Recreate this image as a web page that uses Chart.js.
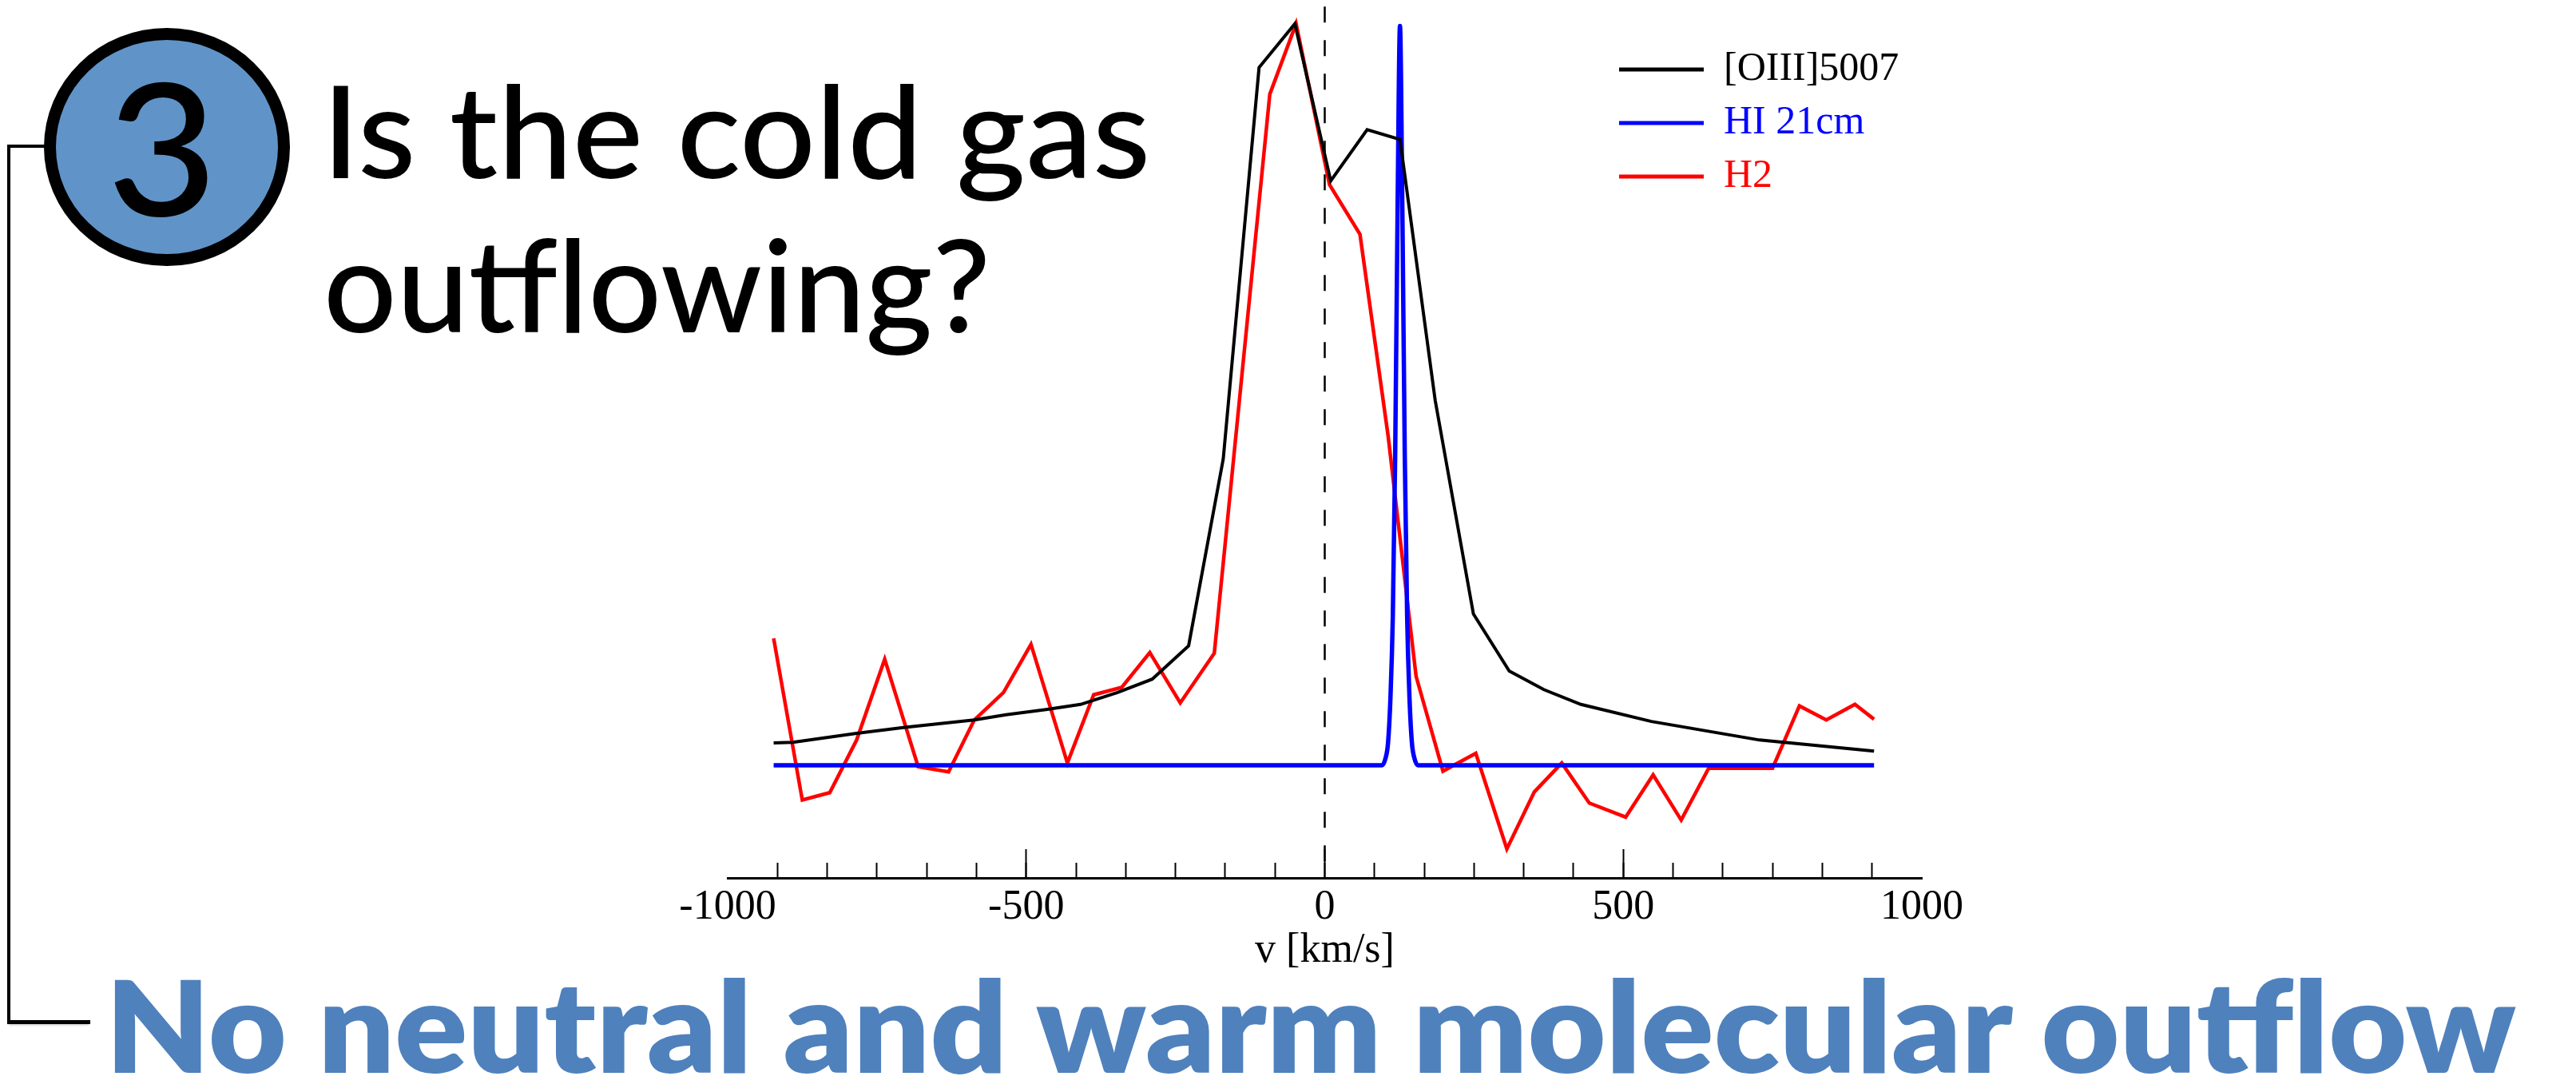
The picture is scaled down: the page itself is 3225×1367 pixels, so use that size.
<!DOCTYPE html>
<html>
<head>
<meta charset="utf-8">
<title>Is the cold gas outflowing?</title>
<script src="https://cdn.jsdelivr.net/npm/chart.js@4.4.1/dist/chart.umd.min.js"></script>
<style>
html, body { margin: 0; padding: 0; background: #fff; }
#page { position: relative; width: 3225px; height: 1367px; overflow: hidden; }
#chartBox { position: absolute; left: 0; top: 0; width: 3225px; height: 1367px; }
.txt { position: absolute; left: 0; top: 0; white-space: nowrap; line-height: 1; transform-origin: 0 0; }
#bracket { position: absolute; left: 9px; top: 182px; width: 104px; height: 1100px; box-sizing: border-box;
  border-left: 4px solid #000; border-bottom: 5px solid #000; box-shadow: 0 3px 3px -2px rgba(0,0,0,0.25); }
#stub { position: absolute; left: 9px; top: 181px; width: 50px; height: 0; border-top: 4px solid #000; }
#badge { position: absolute; left: 55px; top: 35px; width: 308px; height: 298px; box-sizing: border-box;
  border: 15px solid #000; border-radius: 50%; background: #6094c8; }
#num { font: 500 230px Lato, "Open Sans", sans-serif; color: #000; }
#q1, #q2 { font: 500 160px Lato, "Open Sans", sans-serif; color: #000; }
#answer { font: 800 159px Lato, "Open Sans", sans-serif; color: #4f81bd; }
</style>
</head>
<body>
<div id="page">
  <div id="chartBox"><canvas id="spec"></canvas></div>
  <div id="bracket"></div>
  <div id="stub"></div>
  <div id="badge"></div>
  <div class="txt" id="num">3</div>
  <div class="txt" id="q1">Is the cold gas</div>
  <div class="txt" id="q2">outflowing?</div>
  <div class="txt" id="answer">No neutral and warm molecular outflow</div>
</div>
<script>
// velocities (km/s) and normalised line profiles
const oiiiV = [-923, -891, -784, -703, -587, -534, -467, -409, -347, -289, -228, -170, -110, -50, 10, 71, 126, 185, 249, 309, 367, 429, 547, 728, 920];
const oiiiFlux = [0.030, 0.031, 0.043, 0.051, 0.061, 0.068, 0.075, 0.082, 0.098, 0.116, 0.161, 0.413, 0.941, 1.0, 0.788, 0.857, 0.844, 0.492, 0.204, 0.127, 0.102, 0.082, 0.059, 0.034, 0.019];

const hiV = [-923, 96, 102, 106, 110, 114, 118, 122, 126, 130, 134, 138, 142, 146, 150, 156, 920];
const hiFlux = [0, 0, 0.01, 0.03, 0.09, 0.2, 0.42, 0.75, 0.997, 0.75, 0.42, 0.2, 0.09, 0.03, 0.01, 0, 0];

const h2V = [-923, -875, -829, -784, -737, -681, -630, -587, -538, -492, -431, -387, -340, -293, -242, -185, -92, -48, 8, 59, 106, 153, 198, 253, 305, 351, 397, 443, 504, 550, 597, 643, 750, 795, 840, 888, 920];
const h2Flux = [0.171, -0.047, -0.037, 0.034, 0.143, -0.002, -0.009, 0.061, 0.098, 0.163, 0.003, 0.095, 0.105, 0.152, 0.084, 0.151, 0.905, 1.0, 0.783, 0.716, 0.445, 0.120, -0.008, 0.016, -0.113, -0.036, 0.003, -0.051, -0.070, -0.013, -0.074, -0.004, -0.004, 0.080, 0.061, 0.082, 0.062];

// systemic velocity marker
const zeroV = [0, 0];
const zeroY = [1.023, -0.152];

const majorTicks = [-1000, -500, 0, 500, 1000];
const yMin = -0.152, yMax = 1.032;

function pts(xs, ys) {
    return xs.map((v, i) => ({x: v, y: ys[i]}));
}

// put a text block so its ink spans inkLeft..inkRight with the baseline at y
function placeText(id, inkLeft, inkRight, baseline) {
    const el = document.getElementById(id);
    const cs = getComputedStyle(el);
    const c = document.createElement('canvas').getContext('2d');
    c.font = cs.fontWeight + ' ' + cs.fontSize + ' ' + cs.fontFamily;
    const m = c.measureText(el.textContent);
    const s = (inkRight - inkLeft) / (m.actualBoundingBoxLeft + m.actualBoundingBoxRight);
    const mark = document.createElement('span');
    mark.style.cssText = 'display:inline-block;width:0;height:0;vertical-align:baseline';
    el.appendChild(mark);
    const base = mark.getBoundingClientRect().top - el.getBoundingClientRect().top;
    el.style.top = (baseline - base) + 'px';
    el.style.left = (inkLeft + m.actualBoundingBoxLeft * s) + 'px';
    el.style.transform = 'scaleX(' + s + ')';
}

const legendSpot = {
    id: 'legendSpot',
    afterLayout(chart) {
        chart.legend.left = 2010;
        chart.legend.top = 45;
    }
};

const serif = 'Liberation Serif, "Times New Roman", serif';
const hideEnds = (c) => Math.abs(c.tick.value) > 999 ? 'rgba(0,0,0,0)' : '#000';

function drawChart() {
    new Chart(document.getElementById('spec'), {
        type: 'line',
        data: {
            datasets: [{
                label: '[OIII]5007',
                data: pts(oiiiV, oiiiFlux),
                borderColor: '#000000',
                borderWidth: 4
            }, {
                label: 'HI 21cm',
                data: pts(hiV, hiFlux),
                borderColor: '#0000ff',
                borderWidth: 5.5,
                cubicInterpolationMode: 'monotone'
            }, {
                label: 'H2',
                data: pts(h2V, h2Flux),
                borderColor: '#ff0000',
                borderWidth: 4.5
            }, {
                label: 'v0',
                data: pts(zeroV, zeroY),
                borderColor: '#000000',
                borderWidth: 2.5,
                borderDash: [20, 22]
            }]
        },
        options: {
            responsive: true,
            maintainAspectRatio: false,
            animation: false,
            layout: {padding: {left: 911, right: 819, top: 0, bottom: 0}},
            elements: {
                point: {radius: 0},
                line: {tension: 0, fill: false, borderCapStyle: 'butt'}
            },
            scales: {
                xMinor: {
                    type: 'linear',
                    position: 'bottom',
                    weight: 0,
                    min: -1000,
                    max: 1000,
                    ticks: {stepSize: 1000 / 12, display: false},
                    grid: {drawOnChartArea: false, drawTicks: true, tickLength: -19, tickWidth: 2, tickColor: hideEnds},
                    border: {display: false},
                    afterFit: (s) => { s.height = 0; }
                },
                x: {
                    type: 'linear',
                    position: 'bottom',
                    weight: 1,
                    min: -1000,
                    max: 1000,
                    afterBuildTicks: (s) => { s.ticks = majorTicks.map(v => ({value: v})); },
                    ticks: {
                        color: '#000',
                        padding: 42,
                        maxRotation: 0,
                        autoSkip: false,
                        font: {family: serif, size: 52},
                        callback: (v) => String(v)
                    },
                    grid: {drawOnChartArea: false, drawTicks: true, tickLength: -36, tickWidth: 2, tickColor: hideEnds},
                    border: {display: true, color: '#000', width: 3},
                    title: {
                        display: true,
                        text: 'v [km/s]',
                        color: '#000',
                        font: {family: serif, size: 52},
                        padding: {top: 0, bottom: 145}
                    },
                    afterFit: (s) => { s.height = 268; }
                },
                y: {
                    type: 'linear',
                    display: false,
                    min: yMin,
                    max: yMax
                }
            },
            plugins: {
                tooltip: {enabled: false},
                legend: {
                    position: 'chartArea',
                    align: 'start',
                    labels: {
                        boxWidth: 106,
                        boxHeight: 5,
                        padding: 17,
                        font: {family: serif, size: 50},
                        generateLabels: (chart) => chart.data.datasets.slice(0, 3).map((d, i) => ({
                            text: d.label,
                            fillStyle: d.borderColor,
                            strokeStyle: d.borderColor,
                            fontColor: d.borderColor,
                            lineWidth: 0,
                            hidden: false,
                            textAlign: 'left',
                            datasetIndex: i
                        }))
                    }
                }
            }
        },
        plugins: [legendSpot]
    });
}

document.fonts.ready.then(function() {
    placeText('num', 143, 260, 270);
    placeText('q1', 418, 1435, 223);
    placeText('q2', 411, 1234, 416);
    placeText('answer', 144, 3157, 1343);
    drawChart();
});
</script>
</body>
</html>
